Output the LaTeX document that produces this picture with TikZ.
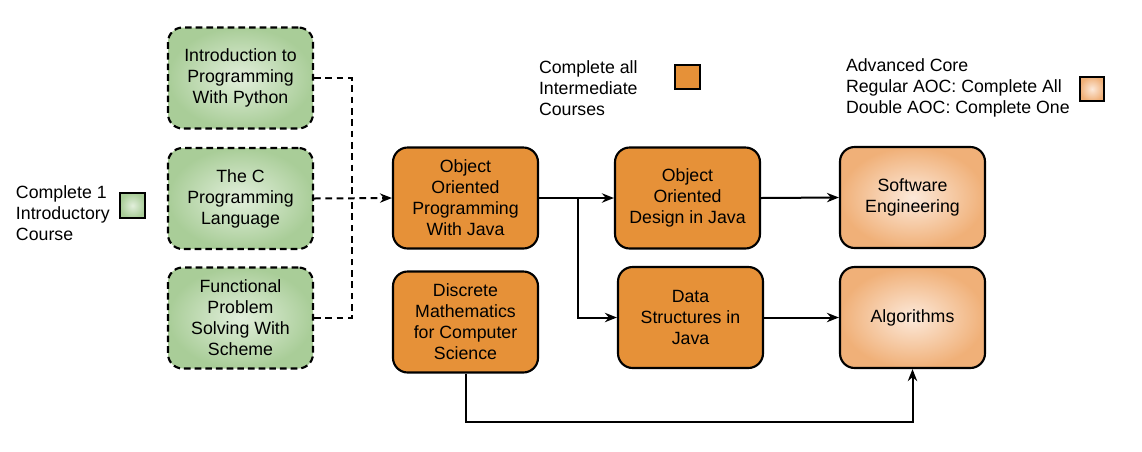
\documentclass[tikz,border=0pt]{standalone}
\usepackage{fontspec}
\setmainfont{Liberation Sans}
\usepackage{tikz}
\usetikzlibrary{arrows.meta}
\usepackage{xcolor}
\definecolor{introfill}{HTML}{A9CD98}
\definecolor{introlight}{HTML}{E2EFDC}
\definecolor{midfill}{HTML}{E69138}
\definecolor{advfill}{HTML}{F0B078}
\definecolor{advlight}{HTML}{FCE9DA}

\begin{document}
\begin{tikzpicture}[x=0.75pt, y=-0.75pt, >={Stealth[length=9pt,width=7pt]}, line width=1.5pt,
    font=\fontsize{13.3}{15.8}\selectfont,
    course/.style={draw, line width=1.6pt, rectangle, rounded corners=11pt, minimum width=108.75pt, minimum height=75.75pt, align=center, inner sep=2pt},
    introbox/.style={course, dash pattern=on 5pt off 3pt, inner color=introlight, outer color=introfill},
    midbox/.style={course, fill=midfill},
    advbox/.style={course, inner color=advlight, outer color=advfill},
    keybox/.style={draw, line width=1.6pt, minimum size=18.5pt, inner sep=0pt},
    keytext/.style={anchor=west, align=left, inner sep=0pt},
    link/.style={->, line width=1.5pt},
    optlink/.style={line width=1.5pt, dash pattern=on 5pt off 3.5pt}]
      \useasboundingbox (0,0) rectangle (1142,451);

      % legend
      \node[keytext] (introtxt) at (15,213) {Complete 1\\Introductory\\Course};
      \node[keybox, inner color=introlight, outer color=introfill] (introkey) at (132.5,205.5) {};
      \node[keytext] (midtxt) at (538,88) {Complete all\\Intermediate\\Courses};
      \node[keybox, fill=midfill] (midkey) at (687.5,77) {};
      \node[keytext] (advtxt) at (845,88) {Advanced Core\\Regular AOC: Complete All\\Double AOC: Complete One};
      \node[keybox, inner color=advlight, outer color=advfill] (advkey) at (1092,89) {};

      % introductory courses
      \node[introbox] (python) at (240.5,78) {Introduction to\\Programming\\With Python};
      \node[introbox] (clang) at (240.5,198.5) {The C\\Programming\\Language};
      \node[introbox] (scheme) at (240.5,318) {Functional\\Problem\\Solving With\\Scheme};

      % intermediate courses
      \node[midbox] (oop) at (465.5,198) {Object\\Oriented\\Programming\\With Java};
      \node[midbox] (discrete) at (465.5,322) {Discrete\\Mathematics\\for Computer\\Science};
      \node[midbox] (ood) at (687.5,198) {Object\\Oriented\\Design in Java};
      \node[midbox] (datastr) at (690.5,317.5) {Data\\Structures in\\Java};

      % advanced core
      \node[advbox] (softeng) at (912.5,197.5) {Software\\Engineering};
      \node[advbox] (algo) at (912.5,317.5) {Algorithms};

      \coordinate (join) at (352,198);
      \coordinate (split) at (578,198);
      \draw[optlink] (python.east) -| (join);
      \draw[optlink] (scheme.east) -| (join);
      \draw[optlink, ->] (clang.east) -- (oop.west);

      \draw[link] (oop.east) -- (ood.west);
      \draw[link] (split) |- (datastr.west);
      \draw[link] (ood.east) -- (softeng.west);
      \draw[link] (datastr.east) -- (algo.west);
      \draw[link] (discrete.south) -- ++(0,48) -| (algo.south);
    \end{tikzpicture}
\end{document}
